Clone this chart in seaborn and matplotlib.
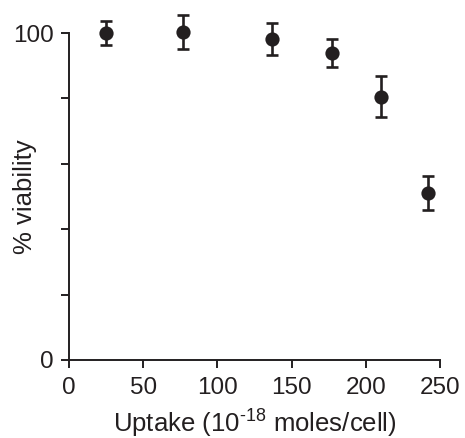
import matplotlib
matplotlib.use("Agg")
import matplotlib.pyplot as plt
import seaborn as sns
import pandas as pd

uptake = [25, 77, 137, 177, 210, 242]
viability = [100, 100.3, 98.2, 93.8, 80.5, 51.2]
err = [3.6, 5.1, 4.9, 4.3, 6.2, 5.2]
xticks = [0, 50, 100, 150, 200, 250]
yticks = [0, 20, 40, 60, 80, 100]
ytick_labels = ["0", "", "", "", "", "100"]

sns.set_style("ticks")
plt.rcParams['font.family'] = ['Liberation Sans', 'DejaVu Sans']
plt.rcParams['mathtext.fontset'] = 'custom'
plt.rcParams['mathtext.rm'] = 'Liberation Sans'

col = "#231f20"
df = pd.DataFrame({"uptake": uptake, "viability": viability, "err": err})

fig = plt.figure(figsize=(4.65, 4.38), dpi=100)
ax = fig.add_axes([69/465, 78/438, 371/465, 327/438])

ax.errorbar(df["uptake"], df["viability"], yerr=df["err"], fmt="none",
            ecolor=col, elinewidth=1.9, capsize=4.5, capthick=1.9, clip_on=False, zorder=2)
sns.scatterplot(data=df, x="uptake", y="viability", ax=ax, color=col, s=105,
                edgecolor=col, linewidth=0, clip_on=False, zorder=3)

ax.set_xlim(0, 250)
ax.set_ylim(0, 100)
ax.set_xticks(xticks)
ax.set_yticks(yticks)
ax.set_yticklabels(ytick_labels)
sns.despine(ax=ax)
for s in ["left", "bottom"]:
    ax.spines[s].set_linewidth(1.4)
    ax.spines[s].set_color(col)
ax.tick_params(axis="both", length=6, width=1.4, color=col, labelsize=17.5, labelcolor=col)
ax.tick_params(axis="x", pad=6)
ax.tick_params(axis="y", pad=5)
ax.set_xlabel("Uptake (10$^{\\mathregular{\u201018}}$ moles/cell)", fontsize=18.5, color=col, labelpad=5)
ax.set_ylabel("% viability", fontsize=18.5, color=col)
ax.yaxis.set_label_coords(-0.085, 0.5)

fig.savefig("out.png", dpi=100)
